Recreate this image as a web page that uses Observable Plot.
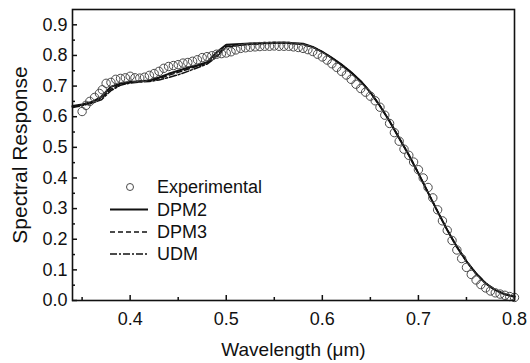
<!DOCTYPE html>
<html>
<head>
<meta charset="utf-8">
<script src="https://cdn.jsdelivr.net/npm/d3@7"></script>
<script src="https://cdn.jsdelivr.net/npm/@observablehq/plot@0.6"></script>
<style>
  html, body { margin: 0; padding: 0; background: #fff; }
  #chart { width: 530px; height: 363px; }
</style>
</head>
<body>
<div id="chart"></div>
<script>
// Experimental (circles)
const expWl = [0.350,0.354,0.358,0.363,0.368,0.371,0.375,0.380,0.385,0.390,0.395,0.400,0.405,0.410,0.415,0.420,0.425,0.430,0.435,0.440,0.445,0.450,0.455,0.460,0.465,0.470,0.475,0.480,0.485,0.490,0.495,0.500,0.505,0.510,0.515,0.520,0.525,0.530,0.535,0.540,0.545,0.550,0.555,0.560,0.565,0.570,0.575,0.580,0.585,0.590,0.595,0.600,0.605,0.610,0.615,0.620,0.625,0.630,0.635,0.640,0.645,0.650,0.655,0.660,0.665,0.670,0.675,0.680,0.685,0.690,0.695,0.700,0.705,0.710,0.715,0.720,0.725,0.730,0.735,0.740,0.745,0.750,0.755,0.760,0.765,0.770,0.775,0.780,0.785,0.790,0.795,0.800];
const expSR = [0.617,0.637,0.650,0.663,0.676,0.688,0.709,0.712,0.722,0.725,0.727,0.732,0.727,0.726,0.729,0.735,0.741,0.748,0.758,0.764,0.767,0.770,0.775,0.777,0.781,0.786,0.793,0.796,0.799,0.804,0.806,0.808,0.812,0.818,0.823,0.825,0.827,0.828,0.829,0.830,0.830,0.831,0.830,0.830,0.830,0.828,0.826,0.823,0.819,0.813,0.804,0.795,0.785,0.773,0.761,0.748,0.736,0.722,0.706,0.692,0.680,0.667,0.652,0.631,0.605,0.578,0.548,0.520,0.494,0.474,0.452,0.427,0.400,0.369,0.335,0.296,0.260,0.229,0.196,0.165,0.137,0.108,0.085,0.067,0.052,0.041,0.031,0.025,0.021,0.017,0.013,0.010];

// Model curves
const modelWl = [0.34,0.35,0.36,0.37,0.38,0.39,0.40,0.41,0.42,0.43,0.44,0.45,0.46,0.47,0.48,0.49,0.50,0.52,0.54,0.56,0.58,0.59,0.60,0.61,0.62,0.63,0.64,0.65,0.66,0.67,0.68,0.69,0.70,0.71,0.72,0.73,0.74,0.75,0.76,0.77,0.78,0.79,0.80];
const dpm2 = [0.635,0.640,0.648,0.665,0.698,0.708,0.713,0.716,0.718,0.728,0.740,0.750,0.760,0.768,0.778,0.810,0.835,0.838,0.841,0.842,0.838,0.828,0.812,0.792,0.770,0.745,0.716,0.680,0.635,0.585,0.530,0.475,0.415,0.352,0.290,0.230,0.175,0.128,0.088,0.056,0.034,0.020,0.012];
const dpm3 = [0.633,0.638,0.646,0.660,0.690,0.705,0.712,0.715,0.717,0.724,0.735,0.745,0.755,0.765,0.775,0.800,0.830,0.836,0.840,0.841,0.837,0.828,0.812,0.792,0.770,0.745,0.716,0.680,0.636,0.586,0.531,0.476,0.416,0.353,0.291,0.231,0.176,0.129,0.089,0.057,0.035,0.021,0.013];
const udm  = [0.630,0.636,0.644,0.655,0.685,0.703,0.710,0.713,0.715,0.720,0.728,0.737,0.748,0.760,0.772,0.795,0.828,0.835,0.839,0.840,0.836,0.827,0.811,0.791,0.769,0.744,0.715,0.679,0.635,0.585,0.530,0.475,0.415,0.352,0.290,0.230,0.175,0.128,0.088,0.056,0.034,0.020,0.012];

// Axis ticks and labels
const xMajor = [0.4,0.5,0.6,0.7,0.8];
const xMinor = [0.35,0.45,0.55,0.65,0.75];
const yMajor = [0.0,0.1,0.2,0.3,0.4,0.5,0.6,0.7,0.8,0.9];
const yMinor = [0.05,0.15,0.25,0.35,0.45,0.55,0.65,0.75,0.85];
const xTitle = "Wavelength (\u03bcm)";
const yTitle = "Spectral Response";
const legendLabels = ["Experimental","DPM2","DPM3","UDM"];

const W = 530, H = 363, mL = 72, mR = 16, mT = 9, mB = 63;
const plotW = W - mL - mR, plotH = H - mT - mB;
const FONT = "'Liberation Sans', Arial, Helvetica, sans-serif";

const expData = expWl.map((w,i) => ({w, v: expSR[i]}));
const mk = arr => modelWl.map((w,i) => ({w, v: arr[i]}));

const chart = Plot.plot({
  width: W, height: H,
  marginLeft: mL, marginRight: mR, marginTop: mT, marginBottom: mB,
  style: {fontFamily: FONT, background: "#fff", color: "#111"},
  x: {domain: [0.34, 0.8]},
  y: {domain: [0, 0.95]},
  marks: [
    Plot.axisX(xMajor, {tickSize: 0, tickPadding: 12, tickFormat: d3.format(".1f"), fontSize: 18, label: null}),
    Plot.axisY(yMajor, {tickSize: 0, tickPadding: 5, tickFormat: d3.format(".1f"), fontSize: 18, label: null}),
    // inward ticks
    Plot.tickX(xMajor, {x: d => d, insetTop: plotH - 5, stroke: "#111", strokeWidth: 1.5}),
    Plot.tickX(xMinor, {x: d => d, insetTop: plotH - 3, stroke: "#111", strokeWidth: 1.5}),
    Plot.tickY(yMajor, {y: d => d, insetRight: plotW - 5, stroke: "#111", strokeWidth: 1.5}),
    Plot.tickY(yMinor, {y: d => d, insetRight: plotW - 3, stroke: "#111", strokeWidth: 1.5}),
    Plot.line(mk(udm), {x: "w", y: "v", stroke: "#111", strokeWidth: 1.5, strokeDasharray: "7,2,2,2"}),
    Plot.line(mk(dpm3), {x: "w", y: "v", stroke: "#111", strokeWidth: 1.5, strokeDasharray: "5,3"}),
    Plot.line(mk(dpm2), {x: "w", y: "v", stroke: "#111", strokeWidth: 2}),
    Plot.dot(expData, {x: "w", y: "v", r: 4.2, stroke: "#4a4a4a", strokeWidth: 1, fill: "none"}),
    Plot.frame({stroke: "#111", strokeWidth: 1.6}),
    Plot.text([xTitle], {frameAnchor: "bottom", dy: 55, text: d => d, fontSize: 19, fill: "#111"}),
    Plot.text([yTitle], {frameAnchor: "left", dx: -52, rotate: -90, textAnchor: "middle", text: d => d, fontSize: 21, fill: "#111"})
  ]
});

document.getElementById("chart").appendChild(chart);

// Legend inside plot area
const svg = d3.select(chart);
const lg = svg.append("g").attr("font-family", FONT).attr("font-size", 18).attr("fill", "#111").attr("text-anchor", "start");
const rowsY = [187, 209.5, 232, 254];
const styles = [null, null, "5,3", "7,2,2,2"];
legendLabels.forEach((lab, i) => {
  const y = rowsY[i];
  if (i === 0) {
    lg.append("circle").attr("cx", 130).attr("cy", y).attr("r", 3.5).attr("fill", "none").attr("stroke", "#4a4a4a").attr("stroke-width", 1);
  } else {
    const l = lg.append("line").attr("x1", 110).attr("x2", 148).attr("y1", y).attr("y2", y)
      .attr("stroke", "#111").attr("stroke-width", i === 1 ? 2 : 1.5);
    if (styles[i]) l.attr("stroke-dasharray", styles[i]);
  }
  lg.append("text").attr("x", 157).attr("y", y).attr("dy", "0.36em").text(lab);
});
</script>
</body>
</html>
